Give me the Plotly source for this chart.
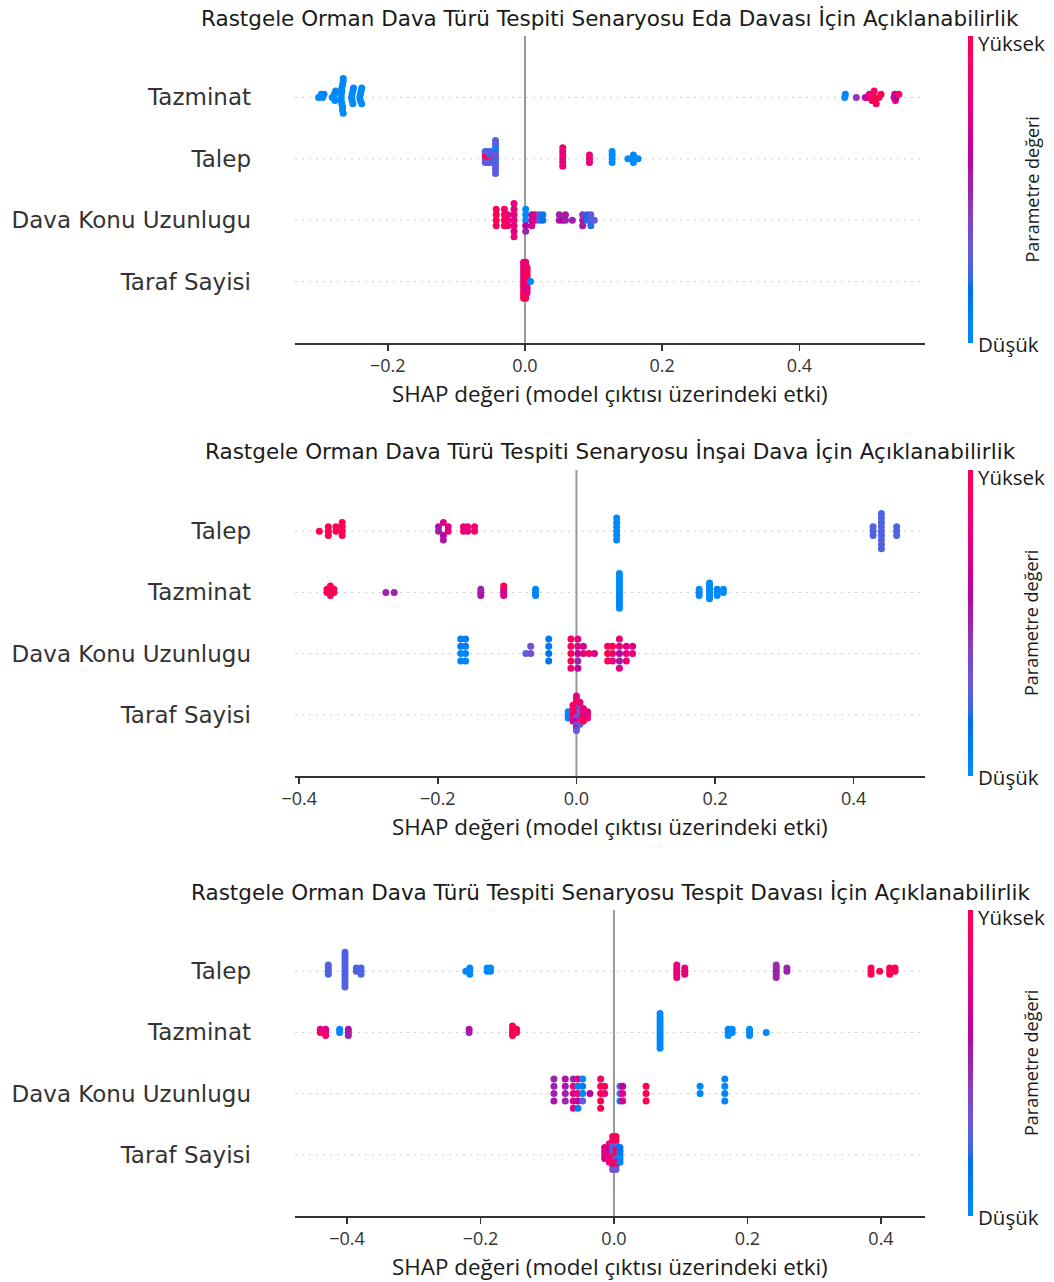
import numpy as np
import plotly.graph_objects as go

# ---------------- data ----------------
titles = [
    "Rastgele Orman Dava Türü Tespiti Senaryosu Eda Davası İçin Açıklanabilirlik",
    "Rastgele Orman Dava Türü Tespiti Senaryosu İnşai Dava İçin Açıklanabilirlik",
    "Rastgele Orman Dava Türü Tespiti Senaryosu Tespit Davası İçin Açıklanabilirlik",
]
x_label = "SHAP değeri (model çıktısı üzerindeki etki)"
cbar_label = "Parametre değeri"
cbar_low, cbar_high = "Düşük", "Yüksek"

features_eda = ["Tazminat", "Talep", "Dava Konu Uzunlugu", "Taraf Sayisi"]
features_insai = ["Talep", "Tazminat", "Dava Konu Uzunlugu", "Taraf Sayisi"]
features_tespit = ["Talep", "Tazminat", "Dava Konu Uzunlugu", "Taraf Sayisi"]

xticks_eda = [-0.2, 0.0, 0.2, 0.4]
xticks_insai = [-0.4, -0.2, 0.0, 0.2, 0.4]
xticks_tespit = [-0.4, -0.2, 0.0, 0.2, 0.4]

# ---- Eda ----
eda_tazminat_x = [-0.301, -0.297, -0.295, -0.293,
                  -0.281, -0.279, -0.278, -0.277, -0.276,
                  -0.268, -0.268, -0.268, -0.267, -0.267, -0.267, -0.266, -0.266, -0.266, -0.265, -0.265, -0.265,
                  -0.253, -0.252, -0.252, -0.251, -0.251, -0.250,
                  -0.241, -0.240, -0.240, -0.239, -0.238, -0.238,
                  0.466, 0.467, 0.483, 0.496, 0.499, 0.502, 0.506, 0.507, 0.507, 0.508, 0.509, 0.512, 0.516, 0.519,
                  0.538, 0.539, 0.540, 0.541, 0.545]
eda_tazminat_c = [0.02, 0.0, 0.0, 0.03,
                  0.0, 0.02, 0.0, 0.0, 0.03,
                  0.0, 0.02, 0.0, 0.0, 0.03, 0.0, 0.0, 0.02, 0.0, 0.0, 0.0, 0.03,
                  0.0, 0.0, 0.02, 0.0, 0.0, 0.03,
                  0.0, 0.02, 0.0, 0.0, 0.0, 0.02,
                  0.0, 0.02, 0.45, 0.55, 0.7, 0.8, 1.0, 1.0, 0.95, 1.0, 0.9, 0.95, 1.0, 1.0,
                  0.55, 0.7, 0.8, 0.6, 0.9]

eda_talep_x = [-0.058, -0.058, -0.058, -0.058,
               -0.055, -0.055, -0.055, -0.055,
               -0.051, -0.051, -0.051, -0.051,
               -0.043, -0.043, -0.043, -0.043, -0.043, -0.043, -0.043, -0.043, -0.043, -0.043,
               0.055, 0.055, 0.055, 0.055, 0.055, 0.055,
               0.094, 0.094, 0.094,
               0.127, 0.127, 0.127, 0.127,
               0.150, 0.158, 0.158, 0.158, 0.165]
eda_talep_c = [0.3, 1.0, 0.3, 0.25,
               1.0, 1.0, 0.3, 0.3,
               0.9, 0.3, 0.28, 0.25,
               0.28, 0.3, 0.25, 0.3, 0.28, 0.05, 0.3, 0.25, 0.28, 0.3,
               0.8, 0.82, 0.8, 0.78, 0.8, 0.82,
               0.8, 0.85, 0.8,
               0.0, 0.02, 0.0, 0.0,
               0.0, 0.0, 0.02, 0.0, 0.0]

eda_dava_x = [-0.042, -0.042, -0.042, -0.042,
              -0.030, -0.030, -0.030, -0.030,
              -0.025, -0.025, -0.025,
              -0.016, -0.016, -0.016, -0.016, -0.016, -0.016, -0.016,
              0.001, 0.001, 0.001, 0.001, 0.001,
              0.010, 0.010, 0.010, 0.015, 0.015, 0.021, 0.021, 0.026, 0.026,
              0.050, 0.050, 0.055, 0.059, 0.059,
              0.069,
              0.084, 0.084, 0.084, 0.091, 0.091, 0.096, 0.096, 0.096, 0.101]
eda_dava_c = [1.0, 1.0, 0.95, 1.0,
              1.0, 0.95, 1.0, 0.9,
              0.85, 0.8, 0.85,
              0.8, 0.78, 0.82, 0.8, 0.75, 0.8, 0.82,
              0.0, 0.02, 0.6, 0.0, 0.5,
              0.7, 0.65, 0.72, 0.75, 0.7, 0.3, 0.35, 0.15, 0.1,
              0.55, 0.5, 0.6, 0.5, 0.55,
              0.5,
              0.5, 0.45, 0.55, 0.2, 0.15, 0.25, 0.3, 0.2, 0.3]

eda_taraf_x = [-0.002, -0.002, -0.002, -0.002, -0.002, -0.002, -0.002, -0.002, -0.002, -0.002, -0.002, -0.002, -0.002, -0.002,
               0.001, 0.001, 0.001, 0.001, 0.001, 0.001, 0.001, 0.001, 0.001, 0.001, 0.001, 0.001, 0.001, 0.001,
               0.003, 0.003, 0.003, 0.003, 0.003, 0.003, 0.003, 0.003, 0.003, 0.003,
               0.008]
eda_taraf_c = [1.0, 0.85, 0.9, 0.75, 1.0, 0.8, 0.95, 0.7, 1.0, 0.85, 0.9, 0.8, 1.0, 0.75,
               0.9, 1.0, 0.8, 0.7, 0.95, 1.0, 0.85, 0.75, 1.0, 0.8, 0.9, 0.7, 1.0, 0.85,
               0.8, 1.0, 0.75, 0.9, 0.85, 1.0, 0.7, 0.95, 0.8, 0.9,
               0.02]

# ---- İnşai ----
insai_talep_x = [-0.371, -0.358, -0.358, -0.358, -0.347, -0.347, -0.338, -0.338, -0.338, -0.338,
                 -0.199, -0.199, -0.192, -0.192, -0.192, -0.185, -0.185,
                 -0.163, -0.163, -0.157, -0.157, -0.147, -0.147,
                 0.058, 0.058, 0.058, 0.058, 0.058, 0.058,
                 0.428, 0.428, 0.428,
                 0.440, 0.440, 0.440, 0.440, 0.440, 0.440, 0.440, 0.440, 0.440,
                 0.462, 0.462, 0.462]
insai_talep_c = [1.0, 1.0, 0.95, 1.0, 1.0, 0.95, 1.0, 1.0, 0.95, 1.0,
                 0.5, 0.55, 0.6, 0.75, 0.55, 0.8, 0.75,
                 0.8, 0.85, 0.8, 0.85, 0.9, 0.85,
                 0.02, 0.0, 0.02, 0.0, 0.02, 0.0,
                 0.25, 0.27, 0.25,
                 0.25, 0.27, 0.25, 0.24, 0.26, 0.25, 0.27, 0.25, 0.26,
                 0.27, 0.25, 0.26]

insai_tazminat_x = [-0.360, -0.360, -0.355, -0.355, -0.355, -0.355, -0.350, -0.350,
                    -0.275, -0.263,
                    -0.138, -0.138, -0.138,
                    -0.105, -0.105, -0.105, -0.105,
                    -0.059, -0.059, -0.059,
                    0.062, 0.062, 0.062, 0.062, 0.062, 0.062, 0.062, 0.062, 0.062, 0.062, 0.062, 0.062,
                    0.177, 0.177, 0.177,
                    0.192, 0.192, 0.192, 0.192, 0.192, 0.192,
                    0.203, 0.203, 0.203, 0.212, 0.212]
insai_tazminat_c = [1.0, 0.95, 1.0, 1.0, 0.95, 1.0, 1.0, 0.95,
                    0.5, 0.5,
                    0.55, 0.5, 0.55,
                    0.7, 0.65, 0.7, 1.0,
                    0.05, 0.05, 0.05,
                    0.02, 0.0, 0.02, 0.0, 0.02, 0.0, 0.02, 0.0, 0.02, 0.0, 0.02, 0.0,
                    0.02, 0.0, 0.02,
                    0.0, 0.02, 0.0, 0.02, 0.0, 0.02,
                    0.0, 0.02, 0.0, 0.02, 0.0]

insai_dava_x = [-0.167, -0.167, -0.167, -0.167, -0.160, -0.160, -0.160, -0.160,
                -0.073, -0.066, -0.066,
                -0.040, -0.040, -0.040, -0.040,
                -0.008, -0.008, -0.008, -0.008, -0.008,
                0.002, 0.002, 0.002, 0.002, 0.002,
                0.010, 0.010, 0.018, 0.026,
                0.045, 0.045, 0.045, 0.052, 0.052, 0.052,
                0.062, 0.062, 0.062, 0.062, 0.062,
                0.072, 0.072, 0.072, 0.081, 0.081]
insai_dava_c = [0.05, 0.1, 0.05, 0.08, 0.05, 0.1, 0.05, 0.08,
                0.3, 0.35, 0.35,
                0.15, 0.12, 0.15, 0.12,
                1.0, 0.9, 1.0, 0.95, 0.85,
                0.6, 0.75, 0.5, 0.8, 0.65,
                0.8, 0.7, 0.9, 0.75,
                1.0, 0.95, 1.0, 0.9, 1.0, 0.8,
                0.6, 0.8, 0.55, 0.85, 0.7,
                0.8, 0.75, 0.85, 0.8, 0.75]

insai_taraf_x = [-0.012, -0.012, -0.012,
                 -0.005, -0.005, -0.005, -0.005, -0.005, -0.005,
                 0.000, 0.000, 0.000, 0.000, 0.000, 0.000, 0.000, 0.000, 0.000, 0.000, 0.000, 0.000,
                 0.005, 0.005, 0.005, 0.005, 0.005, 0.005, 0.005, 0.005,
                 0.010, 0.010, 0.010, 0.010, 0.010,
                 0.016, 0.016, 0.016]
insai_taraf_c = [0.05, 0.02, 0.05,
                 0.9, 1.0, 0.8, 0.95, 0.75, 1.0,
                 1.0, 0.8, 0.3, 0.9, 0.6, 1.0, 0.35, 0.85, 0.5, 1.0, 0.3, 0.8,
                 0.3, 0.25, 0.4, 0.3, 0.9, 0.35, 0.3, 0.8,
                 0.8, 0.9, 0.75, 0.85, 1.0,
                 0.8, 0.75, 0.85]

# ---- Tespit ----
tespit_talep_x = [-0.428, -0.428, -0.428, -0.428,
                  -0.403, -0.403, -0.403, -0.403, -0.403, -0.403, -0.403, -0.403, -0.403, -0.403, -0.403, -0.403,
                  -0.386, -0.386, -0.379, -0.379, -0.379,
                  -0.222, -0.216, -0.216, -0.216,
                  -0.190, -0.190, -0.185, -0.185,
                  0.094, 0.094, 0.094, 0.094, 0.094, 0.106, 0.106, 0.106,
                  0.243, 0.243, 0.243, 0.243, 0.243, 0.259, 0.259,
                  0.385, 0.385, 0.385, 0.398, 0.413, 0.413, 0.413, 0.421, 0.421]
tespit_talep_c = [0.25, 0.27, 0.25, 0.26,
                  0.25, 0.27, 0.25, 0.26, 0.24, 0.25, 0.27, 0.25, 0.26, 0.25, 0.27, 0.25,
                  0.26, 0.25, 0.27, 0.25, 0.26,
                  0.02, 0.0, 0.02, 0.0,
                  0.02, 0.0, 0.02, 0.0,
                  0.8, 0.82, 0.8, 0.78, 0.8, 0.82, 0.8, 0.78,
                  0.5, 0.52, 0.5, 0.48, 0.5, 0.52, 0.5,
                  1.0, 0.95, 1.0, 1.0, 0.95, 1.0, 1.0, 0.95, 1.0]

tespit_tazminat_x = [-0.440, -0.440, -0.432, -0.432, -0.432,
                     -0.411, -0.411, -0.398, -0.398, -0.398,
                     -0.217, -0.217,
                     -0.152, -0.152, -0.152, -0.152, -0.146, -0.146,
                     0.069, 0.069, 0.069, 0.069, 0.069, 0.069, 0.069, 0.069, 0.069, 0.069, 0.069, 0.069,
                     0.171, 0.171, 0.171, 0.177, 0.177,
                     0.203, 0.203, 0.203, 0.228]
tespit_tazminat_c = [1.0, 0.8, 0.7, 0.75, 0.9,
                     0.05, 0.02, 0.5, 0.55, 0.5,
                     0.5, 0.55,
                     1.0, 0.95, 1.0, 1.0, 0.95, 1.0,
                     0.02, 0.0, 0.02, 0.0, 0.02, 0.0, 0.02, 0.0, 0.02, 0.0, 0.02, 0.0,
                     0.0, 0.02, 0.0, 0.02, 0.0,
                     0.02, 0.0, 0.02, 0.0]

tespit_dava_x = [-0.090, -0.090, -0.090, -0.090,
                 -0.073, -0.073, -0.073, -0.073,
                 -0.061, -0.061, -0.061, -0.061, -0.061,
                 -0.054, -0.054, -0.054, -0.054, -0.054,
                 -0.047, -0.047, -0.047, -0.047,
                 -0.036,
                 -0.020, -0.020, -0.020, -0.020, -0.020, -0.014, -0.014,
                 0.009, 0.009, 0.009, 0.013, 0.013, 0.013,
                 0.048, 0.048, 0.048,
                 0.129, 0.129, 0.166, 0.166, 0.166, 0.166]
tespit_dava_c = [0.5, 0.5, 0.55, 0.5,
                 0.5, 0.55, 0.5, 0.55,
                 0.75, 0.8, 0.7, 0.5, 0.75,
                 0.8, 0.05, 0.6, 0.75, 0.1,
                 0.05, 0.1, 0.3, 0.02,
                 0.6,
                 1.0, 0.95, 1.0, 0.9, 1.0, 0.85, 1.0,
                 0.25, 0.3, 0.1, 0.8, 0.6, 0.75,
                 1.0, 0.95, 1.0,
                 0.05, 0.02, 0.05, 0.02, 0.05, 0.02]

tespit_taraf_x = [-0.014, -0.014, -0.014, -0.014,
                  -0.007, -0.007, -0.007, -0.007, -0.007, -0.007,
                  -0.002, -0.002, -0.002, -0.002, -0.002, -0.002, -0.002, -0.002, -0.002, -0.002,
                  0.003, 0.003, 0.003, 0.003, 0.003, 0.003, 0.003, 0.003, 0.003, 0.003,
                  0.009, 0.009, 0.009, 0.009, 0.009]
tespit_taraf_c = [0.75, 0.8, 0.7, 0.75,
                  0.8, 0.7, 0.75, 0.6, 0.85, 0.8,
                  1.0, 0.3, 0.9, 0.25, 1.0, 0.3, 0.8, 1.0, 0.35, 0.9,
                  1.0, 0.95, 0.3, 1.0, 0.85, 0.25, 1.0, 0.9, 0.3, 1.0,
                  0.05, 0.1, 0.05, 0.15, 0.05]

panels = [
    dict(title=titles[0], features=features_eda, ticks=xticks_eda,
         data={"Tazminat": (eda_tazminat_x, eda_tazminat_c), "Talep": (eda_talep_x, eda_talep_c),
               "Dava Konu Uzunlugu": (eda_dava_x, eda_dava_c), "Taraf Sayisi": (eda_taraf_x, eda_taraf_c)}),
    dict(title=titles[1], features=features_insai, ticks=xticks_insai,
         data={"Talep": (insai_talep_x, insai_talep_c), "Tazminat": (insai_tazminat_x, insai_tazminat_c),
               "Dava Konu Uzunlugu": (insai_dava_x, insai_dava_c), "Taraf Sayisi": (insai_taraf_x, insai_taraf_c)}),
    dict(title=titles[2], features=features_tespit, ticks=xticks_tespit,
         data={"Talep": (tespit_talep_x, tespit_talep_c), "Tazminat": (tespit_tazminat_x, tespit_tazminat_c),
               "Dava Konu Uzunlugu": (tespit_dava_x, tespit_dava_c), "Taraf Sayisi": (tespit_taraf_x, tespit_taraf_c)}),
]

# ---------------- styling / geometry ----------------
# the page body margin is removed by a post-script, so figure pixels == window pixels
W, H = 1054, 1282

geom = [  # window-pixel geometry of each plot area
    dict(top=36, bottom=343, left=295, right=925, xr=(-0.3353, 0.5831)),
    dict(top=470, bottom=776, left=295, right=925, xr=(-0.4061, 0.5029)),
    dict(top=910, bottom=1216, left=295, right=925, xr=(-0.4779, 0.4659)),
]


def lch_to_rgb(L, C, h):
    a = C * np.cos(h)
    b = C * np.sin(h)
    fy = (L + 16) / 116.0
    fx = fy + a / 500.0
    fz = fy - b / 200.0

    def finv(t):
        return np.where(t ** 3 > 0.008856, t ** 3, (t - 16 / 116.0) / 7.787)

    X = 0.95047 * finv(fx)
    Y = 1.0 * finv(fy)
    Z = 1.08883 * finv(fz)
    r = 3.2406 * X - 1.5372 * Y - 0.4986 * Z
    g = -0.9689 * X + 1.8758 * Y + 0.0415 * Z
    bl = 0.0557 * X - 0.2040 * Y + 1.0570 * Z
    rgb = np.array([r, g, bl], dtype=float)
    rgb = np.where(rgb > 0.0031308, 1.055 * np.power(np.clip(rgb, 0, None), 1 / 2.4) - 0.055, 12.92 * rgb)
    return np.clip(rgb, 0, 1)


nsteps = 100
l_vals = list(np.linspace(54.0, 40.0, nsteps // 2)) + list(np.linspace(40.0, 54.0, nsteps // 2))
c_vals = np.linspace(70.0, 90.0, nsteps)
h_vals = np.linspace(4.6588, 0.35470565 + 2 * np.pi, nsteps)
colorscale = []
for i in range(nsteps):
    rr, gg, bb = lch_to_rgb(l_vals[i], c_vals[i], h_vals[i])
    colorscale.append([i / (nsteps - 1), f"rgb({int(round(rr*255))},{int(round(gg*255))},{int(round(bb*255))})"])


def swarm_offsets(vals, nbins=100, row_height=0.4):
    v = np.asarray(vals, dtype=float)
    quant = np.round(nbins * (v - v.min()) / (v.max() - v.min() + 1e-8))
    inds = np.argsort(quant, kind="stable")
    ys = np.zeros(len(v))
    layer = 0
    last = -1
    for ind in inds:
        if quant[ind] != last:
            layer = 0
        ys[ind] = np.ceil(layer / 2) * ((layer % 2) * 2 - 1)
        layer += 1
        last = quant[ind]
    ys *= 0.9 * (row_height / np.max(ys + 1))
    return ys


def py(pix):
    return 1 - pix / H


def px(pix):
    return pix / W


fig = go.Figure()
layout = dict(width=W, height=H, margin=dict(l=0, r=0, t=0, b=0, autoexpand=False),
              paper_bgcolor="white", plot_bgcolor="white", showlegend=False,
              annotations=[], shapes=[])

TEXT = "#333333"
DARK = "#1a1a1a"
for p, (panel, g) in enumerate(zip(panels, geom)):
    sfx = "" if p == 0 else str(p + 1)
    xa, ya = "x" + sfx, "y" + sfx
    ca = "coloraxis" + sfx
    feats = panel["features"]
    nf = len(feats)
    for i, f in enumerate(feats):
        xs, cs = panel["data"][f]
        assert len(xs) == len(cs), (f, p, len(xs), len(cs))
        row = nf - 1 - i
        offs = swarm_offsets(xs)
        fig.add_trace(go.Scatter(
            x=xs, y=row + offs, mode="markers", xaxis=xa, yaxis=ya,
            marker=dict(size=7, color=cs, coloraxis=ca, line=dict(width=0), opacity=1),
            hoverinfo="skip"))
        layout["shapes"].append(dict(type="line", xref=xa + " domain", yref=ya, x0=0, x1=1, y0=row, y1=row,
                                     line=dict(color="#cccccc", width=1, dash="2px,5px"), layer="below"))
    layout["shapes"].append(dict(type="line", xref=xa, yref=ya + " domain", x0=0, x1=0, y0=0, y1=1,
                                 line=dict(color="#999999", width=2), layer="below"))

    ticks = panel["ticks"]
    layout["xaxis" + sfx] = dict(
        domain=[px(g["left"]), px(g["right"])], anchor=ya, range=list(g["xr"]), automargin=False,
        tickvals=ticks, ticktext=[("\u2212" if t < 0 else "") + f"{abs(t):.1f}" for t in ticks],
        showline=True, linecolor=TEXT, linewidth=1.5, ticks="outside", ticklen=6, tickwidth=1.5,
        tickcolor=TEXT, showgrid=False, zeroline=False,
        tickfont=dict(family="Open Sans", size=18, color=TEXT))
    layout["yaxis" + sfx] = dict(
        domain=[py(g["bottom"]), py(g["top"])], anchor=xa, range=[-1, nf], automargin=False,
        tickvals=list(range(nf)), ticktext=list(reversed(feats)),
        showline=False, showgrid=False, zeroline=False, ticks="", ticklabelstandoff=43,
        tickfont=dict(family="DejaVu Sans", size=23, color=TEXT))
    layout[ca] = dict(
        colorscale=colorscale, cmin=0, cmax=1,
        colorbar=dict(x=px(968), xanchor="left", xpad=0, ypad=0,
                      y=py((g["top"] + g["bottom"]) / 2), yanchor="middle",
                      len=(g["bottom"] - g["top"]) / H, lenmode="fraction", thickness=5,
                      outlinewidth=0, showticklabels=False, ticks=""))
    cx = (g["left"] + g["right"]) / 2
    layout["annotations"].append(dict(
        text=panel["title"], x=px(cx), y=py(g["top"] - 18), xref="paper", yref="paper",
        xanchor="center", yanchor="middle", showarrow=False,
        font=dict(family="DejaVu Sans", size=21.5, color=DARK)))
    layout["annotations"].append(dict(
        text=x_label, x=px(cx), y=py(g["bottom"] + 50), xref="paper", yref="paper",
        xanchor="center", yanchor="middle", showarrow=False,
        font=dict(family="Open Sans", size=22.4, color=DARK)))
    layout["annotations"].append(dict(
        text=cbar_label, x=px(1031), y=py((g["top"] + g["bottom"]) / 2), xref="paper", yref="paper",
        xanchor="center", yanchor="middle", showarrow=False, textangle=-90,
        font=dict(family="Open Sans", size=18, color=DARK)))
    layout["annotations"].append(dict(
        text=cbar_high, x=px(976), y=py(g["top"] + 7), xref="paper", yref="paper",
        xanchor="left", yanchor="middle", showarrow=False,
        font=dict(family="Open Sans", size=20.5, color=DARK)))
    layout["annotations"].append(dict(
        text=cbar_low, x=px(976), y=py(g["bottom"] + 1), xref="paper", yref="paper",
        xanchor="left", yanchor="middle", showarrow=False,
        font=dict(family="Open Sans", size=20.5, color=DARK)))

fig.update_layout(**layout)
fig.write_html("out.html",
               config={"displayModeBar": False, "staticPlot": True},
               post_script="document.body.style.margin='0';document.body.style.overflow='hidden';")
